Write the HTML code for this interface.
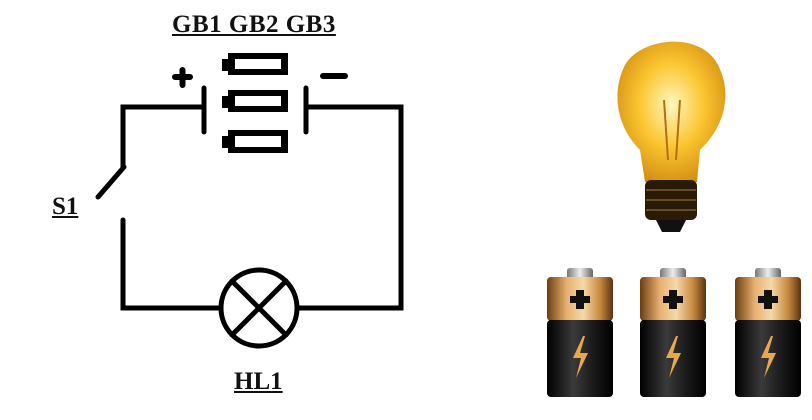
<!DOCTYPE html>
<html><head><style>
body{margin:0;background:#fff;width:812px;height:420px;overflow:hidden;position:relative;font-family:"Liberation Serif",serif}
.t{position:absolute;font-weight:bold;text-decoration:underline;font-size:25px;color:#111;line-height:1}
</style></head><body>
<div class="t" style="left:172px;top:12px;letter-spacing:0.5px">GB1 GB2 GB3</div>
<div class="t" style="left:52px;top:194px">S1</div>
<div class="t" style="left:234px;top:369px">HL1</div>
<svg width="812" height="420" style="position:absolute;left:0;top:0">
<defs>
<linearGradient id="gold" x1="0" x2="1">
<stop offset="0" stop-color="#6b3e10"/><stop offset="0.3" stop-color="#e8b070"/><stop offset="0.55" stop-color="#f6d9a8"/><stop offset="0.8" stop-color="#c88a40"/><stop offset="1" stop-color="#5a3410"/></linearGradient>
<linearGradient id="blk" x1="0" x2="1">
<stop offset="0" stop-color="#000"/><stop offset="0.4" stop-color="#3a3a3a"/><stop offset="0.7" stop-color="#1a1a1a"/><stop offset="1" stop-color="#000"/></linearGradient>
<linearGradient id="cap" x1="0" x2="1"><stop offset="0" stop-color="#777"/><stop offset="0.5" stop-color="#eee"/><stop offset="1" stop-color="#666"/></linearGradient>
<radialGradient id="glow" cx="0.5" cy="0.45" r="0.6"><stop offset="0" stop-color="#fff6c0"/><stop offset="0.5" stop-color="#fbc630"/><stop offset="1" stop-color="#d08a10"/></radialGradient>
<g id="bat">
<rect x="20" y="0" width="26" height="12" rx="3" fill="url(#cap)"/>
<rect x="0" y="9" width="66" height="44" rx="4" fill="url(#gold)"/>
<rect x="0" y="52" width="66" height="77" rx="4" fill="url(#blk)"/>
<path d="M29 22h8v6h6v7h-6v6h-8v-6h-6v-7h6z" fill="#111"/>
<path d="M36 68l-10 22h8l-5 20 12-25h-8l5-17z" fill="#e8a850"/>
</g>
</defs>
<g stroke="#000" stroke-width="5" fill="none" stroke-linecap="round">
<path d="M204 107H123V167M98 197L124 167"/>
<path d="M123 220V308H220M298 308H401V107H306"/>
<path d="M204 88V132M306 88V132"/>
<path d="M175 77h15M182.5 70v15M323 76h22" stroke-width="6"/>
<circle cx="259" cy="308" r="38"/>
<path d="M232 281L286 335M286 281L232 335"/>
</g>
<g fill="#000">
<rect x="228" y="53" width="60" height="22"/><rect x="222" y="59" width="7" height="12"/>
<rect x="228" y="90" width="60" height="22"/><rect x="222" y="96" width="7" height="12"/>
<rect x="228" y="130" width="60" height="23"/><rect x="222" y="136" width="7" height="12"/>
</g>
<g fill="#fff">
<rect x="235" y="59" width="46" height="10"/><rect x="235" y="96" width="46" height="10"/><rect x="235" y="136" width="46" height="11"/>
</g>
<path d="M640 150 C615 125 612 90 625 65 C640 38 700 30 718 65 C732 92 726 125 700 150 L697 182 H645 Z" fill="url(#glow)"/>
<path d="M668 160 l-4 -60 M676 160 l4 -60" stroke="#b07010" stroke-width="2" fill="none"/>
<rect x="645" y="180" width="52" height="40" rx="6" fill="#2a1a08"/>
<path d="M646 190h50M646 200h50M646 210h50" stroke="#6a4a20" stroke-width="2"/>
<path d="M656 220h30l-6 12h-18z" fill="#111"/>
<use href="#bat" x="547" y="268"/>
<use href="#bat" x="640" y="268"/>
<use href="#bat" x="735" y="268"/>
</svg>
</body></html>
